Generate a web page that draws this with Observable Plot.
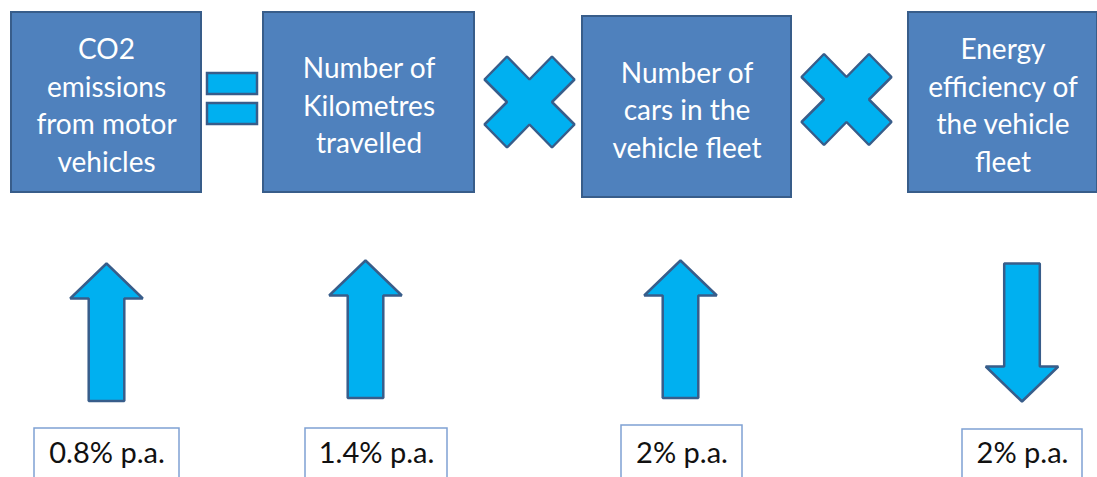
<!DOCTYPE html>
<html>
<head>
<meta charset="utf-8">
<script src="https://cdn.jsdelivr.net/npm/d3@7"></script>
<script src="https://cdn.jsdelivr.net/npm/@observablehq/plot@0.6"></script>
<style>
  html, body { margin: 0; padding: 0; background: #ffffff; overflow: hidden; }
  #chart svg { display: block; }
</style>
</head>
<body>
<div id="chart"></div>
<script>
// ---- Data ----
const factors = [
  "CO2\nemissions\nfrom motor\nvehicles",
  "Number of\nKilometres\ntravelled",
  "Number of\ncars in the\nvehicle fleet",
  "Energy\nefficiency of\nthe vehicle\nfleet"
];
const operators = ["=", "×", "×"];
const trends = ["up", "up", "up", "down"];
const rates = [0.8, 1.4, 2, 2];
const rateLabels = ["0.8% p.a.", "1.4% p.a.", "2% p.a.", "2% p.a."];

// ---- Layout (diagram geometry, in pixels) ----
const W = 1097, H = 477;
const boxLeft = [11, 263, 582, 908];
const boxRight = [201, 474, 791, 1097];
const boxTop = [12, 12, 16, 12];
const boxBottom = [192, 192, 197, 192];
const opX = [232, 529, 846];
const opY = [98.5, 101.5, 99];
const arrowX = [106, 365, 680, 1021.5];
const arrowTop = [263, 260, 260, 263];
const arrowBottom = [400.5, 397.5, 397.5, 401];
const labelLeft = [34, 305, 621, 962];
const labelRight = [179, 447, 742, 1082];
const labelTop = [428, 428, 425, 429];

const BOX_FILL = "#4F81BD", BOX_STROKE = "#385D8A";
const CYAN = "#00B0F0", SHAPE_STROKE = "#385D8A";
const LABEL_STROKE = "#7FA1D3";

const boxes = factors.map((t, i) => ({
  text: t, x1: boxLeft[i], x2: boxRight[i], y1: boxTop[i], y2: boxBottom[i],
  cx: (boxLeft[i] + boxRight[i]) / 2, cy: (boxTop[i] + boxBottom[i]) / 2 + 1
}));

// operator shapes
const eqBars = [];
const polys = [];
operators.forEach((op, i) => {
  const cx = opX[i], cy = opY[i];
  if (op === "=") {
    eqBars.push({x1: cx - 25, x2: cx + 25, y1: cy - 25.5, y2: cy - 4.5});
    eqBars.push({x1: cx - 25, x2: cx + 25, y1: cy + 4.5, y2: cy + 25.5});
  } else {
    const a = 22.5, o = 45, v = 45.5;
    const pts = [[-a, -v], [0, -a], [a, -v], [o, -a], [a, 0], [o, a], [a, v], [0, a], [-a, v], [-o, a], [-a, 0], [-o, -a]];
    pts.forEach(([dx, dy]) => polys.push({id: "op" + i, x: cx + dx, y: cy + dy}));
  }
});

// arrows
trends.forEach((d, i) => {
  const cx = arrowX[i], top = arrowTop[i], bottom = arrowBottom[i];
  const hw = 36.3, sw = 17.8, hl = 35;
  let pts;
  if (d === "up") {
    pts = [[cx, top], [cx + hw, top + hl], [cx + sw, top + hl], [cx + sw, bottom], [cx - sw, bottom], [cx - sw, top + hl], [cx - hw, top + hl]];
  } else {
    pts = [[cx, bottom], [cx - hw, bottom - hl], [cx - sw, bottom - hl], [cx - sw, top], [cx + sw, top], [cx + sw, bottom - hl], [cx + hw, bottom - hl]];
  }
  pts.forEach(([x, y]) => polys.push({id: "arrow" + i, x, y}));
});

const labels = rateLabels.map((t, i) => ({
  text: t, rate: rates[i], x1: labelLeft[i], x2: labelRight[i], y1: labelTop[i], y2: H + 10,
  cx: (labelLeft[i] + labelRight[i]) / 2, cy: 462 - 0.32 * 29
}));

const chart = Plot.plot({
  width: W,
  height: H,
  margin: 0,
  style: {fontFamily: "Lato, 'Open Sans', sans-serif", background: "#ffffff", overflow: "hidden"},
  x: {domain: [0, W], range: [0, W], axis: null},
  y: {domain: [0, H], range: [0, H], axis: null},
  marks: [
    Plot.rect(boxes, {x1: "x1", x2: "x2", y1: "y1", y2: "y2", fill: BOX_FILL, stroke: BOX_STROKE, strokeWidth: 2}),
    Plot.text(boxes, {x: "cx", y: "cy", text: "text", fill: "#ffffff", fontSize: 28, lineHeight: 1.34, fontFamily: "Lato"}),
    Plot.rect(eqBars, {x1: "x1", x2: "x2", y1: "y1", y2: "y2", fill: CYAN, stroke: SHAPE_STROKE, strokeWidth: 2.5}),
    Plot.line(polys, {x: "x", y: "y", z: "id", fill: CYAN, stroke: SHAPE_STROKE, strokeWidth: 2.5, curve: "linear-closed", strokeLinejoin: "miter"}),
    Plot.rect(labels, {x1: "x1", x2: "x2", y1: "y1", y2: "y2", fill: "#ffffff", stroke: LABEL_STROKE, strokeWidth: 1.5}),
    Plot.text(labels, {x: "cx", y: "cy", text: "text", fill: "#111111", fontSize: 29, fontFamily: "Lato"})
  ]
});
document.getElementById("chart").appendChild(chart);
</script>
</body>
</html>
